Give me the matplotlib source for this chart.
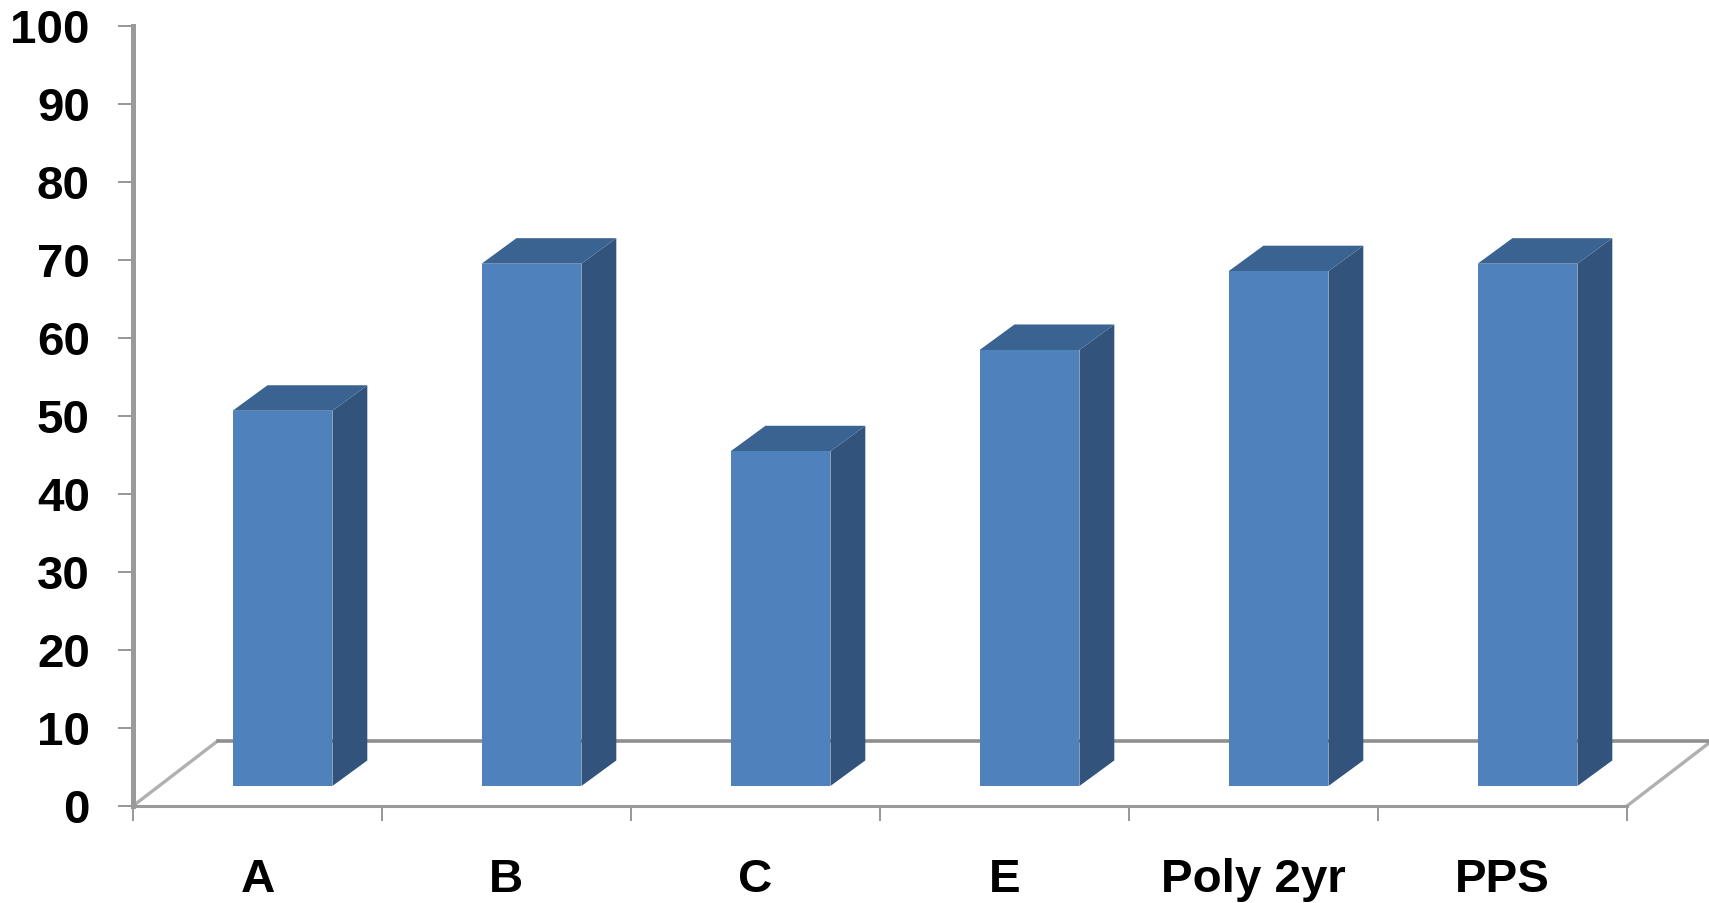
import matplotlib
matplotlib.use('Agg')
from matplotlib import pyplot as plt
from matplotlib.patches import Polygon

categories = ['A', 'B', 'C', 'E', 'Poly 2yr', 'PPS']
values = [50, 69.6, 44.6, 58.1, 68.6, 69.6]
y_ticks = [0, 10, 20, 30, 40, 50, 60, 70, 80, 90, 100]

# fake 3d layout, in data units
base = 2.56
front_scale = 0.9615
bar_off = 0.4
bar_w = 0.401
side_dx = 0.14
side_dy = 3.27
floor_dx = 0.34
floor_dy = 8.33

plt.rcParams['font.family'] = ['Liberation Sans', 'DejaVu Sans']
plt.rcParams['font.weight'] = 'bold'

fig = plt.figure(figsize=(17.09, 9.035), dpi=100)
ax = fig.add_axes([133 / 1709, 1 - 806 / 903, (1627 - 133) / 1709, (806 - 26) / 903])
ax.set_xlim(0, 6)
ax.set_ylim(0, 100)

for s in ['top', 'right']:
    ax.spines[s].set_visible(False)
ax.spines['left'].set_color('#9a9a9a')
ax.spines['left'].set_linewidth(3.6)
ax.spines['bottom'].set_color('#9a9a9a')
ax.spines['bottom'].set_linewidth(2.2)

# floor
ax.plot([0, floor_dx], [0, floor_dy], color='#b0b0b0', lw=2.4, zorder=1)
ax.plot([6, 6 + floor_dx], [0, floor_dy], color='#b0b0b0', lw=2.4, zorder=1, clip_on=False)
ax.plot([floor_dx, 6 + floor_dx], [floor_dy, floor_dy], color='#8f8f8f', lw=2.6, zorder=1, clip_on=False)

for i, v in enumerate(values):
    x0 = i + bar_off
    x1 = x0 + bar_w
    h = v * front_scale
    top = base + h
    ax.bar(x0, h, width=bar_w, bottom=base, align='edge', color='#4f81bd', zorder=3)
    side = [(x1, base), (x1 + side_dx, base + side_dy), (x1 + side_dx, top + side_dy), (x1, top)]
    ax.add_patch(Polygon(side, closed=True, facecolor='#31537c', edgecolor='none', zorder=2))
    roof = [(x0, top), (x0 + side_dx, top + side_dy), (x1 + side_dx, top + side_dy), (x1, top)]
    ax.add_patch(Polygon(roof, closed=True, facecolor='#3b6391', edgecolor='none', zorder=2))

ax.set_yticks(y_ticks)
ax.tick_params(axis='y', length=11, width=1.3, color='#8f8f8f', pad=20, labelsize=34.2, labelcolor='black')
ax.set_xticks(range(7))
ax.set_xticklabels([])
ax.tick_params(axis='x', which='major', length=11, width=1.3, color='#8f8f8f')
ax.set_xticks([i + 0.5 for i in range(6)], minor=True)
ax.set_xticklabels(categories, minor=True)
ax.tick_params(axis='x', which='minor', length=0, pad=37, labelsize=34.2, labelcolor='black')

plt.savefig('out.png', dpi=100)
